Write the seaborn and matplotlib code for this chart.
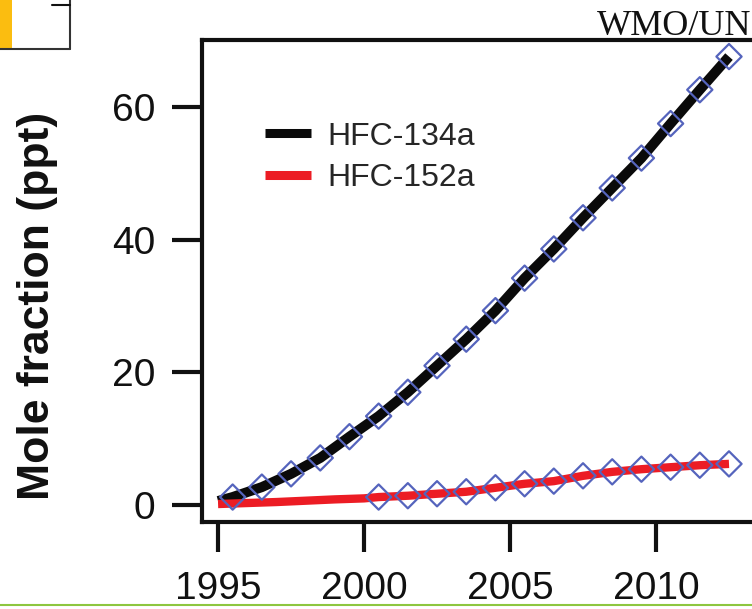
import numpy as np
import pandas as pd
import matplotlib
matplotlib.use("Agg")
import matplotlib.pyplot as plt
from matplotlib.patches import Rectangle
from matplotlib.lines import Line2D
import seaborn as sns

# ---------------- data ----------------
series_names = ["HFC-134a", "HFC-152a"]

hfc134a_line_years = [1995.0, 1995.5, 1996.5, 1997.5, 1998.5, 1999.5, 2000.5, 2001.5, 2002.5,
                      2003.5, 2004.5, 2005.5, 2006.5, 2007.5, 2008.5, 2009.5, 2010.5,
                      2011.5, 2012.5]
hfc134a_line_vals = [0.6, 1.2, 2.7, 4.7, 7.1, 10.3, 13.4, 17.0, 21.0, 25.0, 29.3, 34.2,
                     38.6, 43.3, 47.8, 52.3, 57.5, 62.6, 67.6]

hfc152a_line_years = [1995.0, 1996.0, 1997.0, 1998.0, 1999.0, 2000.0, 2000.5, 2001.5, 2002.5,
                      2003.5, 2004.5, 2005.5, 2006.5, 2007.5, 2008.5, 2009.5, 2010.5,
                      2011.5, 2012.5]
hfc152a_line_vals = [0.15, 0.3, 0.45, 0.65, 0.85, 1.0, 1.2, 1.4, 1.7, 2.0, 2.6, 3.2, 3.6,
                     4.4, 5.0, 5.4, 5.7, 6.0, 6.2]

hfc134a_obs_years = [1995.5, 1996.5, 1997.5, 1998.5, 1999.5, 2000.5, 2001.5, 2002.5, 2003.5,
                     2004.5, 2005.5, 2006.5, 2007.5, 2008.5, 2009.5, 2010.5, 2011.5, 2012.5]
hfc134a_obs_vals = [1.2, 2.7, 4.7, 7.1, 10.3, 13.4, 17.0, 21.0, 25.0, 29.3, 34.2, 38.6,
                    43.3, 47.8, 52.3, 57.5, 62.6, 67.6]

hfc152a_obs_years = [2000.5, 2001.5, 2002.5, 2003.5, 2004.5, 2005.5, 2006.5, 2007.5, 2008.5,
                     2009.5, 2010.5, 2011.5, 2012.5]
hfc152a_obs_vals = [1.2, 1.4, 1.7, 2.0, 2.6, 3.2, 3.6, 4.4, 5.0, 5.4, 5.7, 6.0, 6.2]

x_ticks = [1995, 2000, 2005, 2010]
y_ticks = [0, 20, 40, 60]
y_label = "Mole fraction (ppt)"
credit = "WMO/UN"

# ---------------- style ----------------
sns.set_style("ticks")
plt.rcParams["font.family"] = ["Liberation Sans", "DejaVu Sans"]

W, H = 752, 609
fig = plt.figure(figsize=(W / 100, H / 100), dpi=100)
ax = fig.add_axes([202 / W, 87 / H, (W - 202) / W, 482 / H])

lines_df = pd.concat([
    pd.DataFrame({"year": hfc134a_line_years, "value": hfc134a_line_vals, "gas": series_names[0]}),
    pd.DataFrame({"year": hfc152a_line_years, "value": hfc152a_line_vals, "gas": series_names[1]}),
])
obs_df = pd.concat([
    pd.DataFrame({"year": hfc134a_obs_years, "value": hfc134a_obs_vals}),
    pd.DataFrame({"year": hfc152a_obs_years, "value": hfc152a_obs_vals}),
])

colors = {"HFC-134a": "#0a0a0a", "HFC-152a": "#ec1c24"}
widths = {"HFC-134a": 7.2, "HFC-152a": 6.0}

for gas in series_names:
    sub = lines_df[lines_df["gas"] == gas]
    sns.lineplot(data=sub, x="year", y="value", ax=ax, color=colors[gas],
                 linewidth=widths[gas], solid_capstyle="butt", legend=False, zorder=2)

sns.scatterplot(data=obs_df, x="year", y="value", ax=ax, marker="D", s=165,
                facecolor="none", edgecolor="#5564bd", linewidth=1.6, zorder=3, legend=False)

ax.set_xlim(1994.45, 1995 + (W - 218) / 29.2)
ax.set_ylim(-2.56, 70.1)
ax.set_xticks(x_ticks)
ax.set_yticks(y_ticks)
ax.set_xticklabels([str(t) for t in x_ticks])
ax.set_yticklabels([str(t) for t in y_ticks])
ax.tick_params(axis="both", direction="out", length=21.5, width=3, labelsize=28,
               color="#111111", labelcolor="#111111")
ax.tick_params(axis="x", pad=14)
ax.tick_params(axis="y", pad=12)
for side in ["left", "bottom", "top"]:
    ax.spines[side].set_linewidth(3)
    ax.spines[side].set_color("#111111")
ax.spines["right"].set_visible(False)
ax.set_xlabel("")
ax.set_ylabel(y_label, fontsize=32, fontweight="bold", color="#111111")
ax.yaxis.set_label_coords(-0.262, 0.448)

handles = [Line2D([], [], color=colors[g], linewidth=6.5, solid_capstyle="butt") for g in series_names]
ax.legend(handles, series_names, loc="upper left", bbox_to_anchor=(255 / W, 1 - 112 / H),
          bbox_transform=fig.transFigure, frameon=False, fontsize=23, handlelength=1.45,
          handletextpad=0.5, labelspacing=0.35, borderaxespad=0, borderpad=0.3)

# credit text at the top right (cropped in the original)
fig.text(597 / W, 1 - 35 / H, credit, fontsize=26, family="Liberation Serif",
         ha="left", va="baseline", color="#111111")

# decorations from the cropped page
fig.patches.append(Rectangle((0, 1 - 48 / H), 12 / W, 48 / H, transform=fig.transFigure,
                             facecolor="#fbbd10", edgecolor="none"))
fig.lines.append(Line2D([70 / W, 70 / W], [1, 1 - 49 / H], transform=fig.transFigure,
                        color="#333333", linewidth=1.5))
fig.lines.append(Line2D([0, 70 / W], [1 - 49 / H, 1 - 49 / H], transform=fig.transFigure,
                        color="#333333", linewidth=1.5))
fig.lines.append(Line2D([52 / W, 70 / W], [1 - 5 / H, 1 - 5 / H], transform=fig.transFigure,
                        color="#111111", linewidth=1.5))
fig.lines.append(Line2D([0, 1], [1 - 605 / H, 1 - 605 / H], transform=fig.transFigure,
                        color="#8dc63f", linewidth=1.5))

fig.savefig("out.png", dpi=100)
